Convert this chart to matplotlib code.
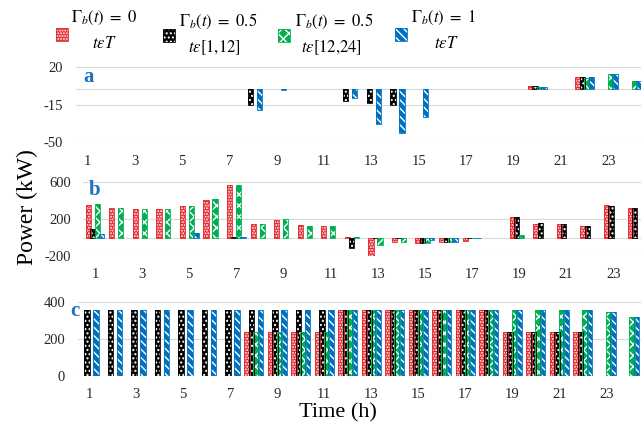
import numpy as np
import matplotlib
matplotlib.use("Agg")
import matplotlib.pyplot as plt
from matplotlib.patches import Rectangle

plt.rcParams['font.family'] = ['Liberation Serif', 'DejaVu Serif']
plt.rcParams['mathtext.fontset'] = 'stix'
plt.rcParams['hatch.linewidth'] = 1.0

hours = list(range(1, 25))
xtick_labels = [str(h) for h in range(1, 24, 2)]

# Panel a
red_a = [0, 0, 0, 0, 0, 0, 0, 0, 0, 0, 0, 0, 0, 0, 0, 0, 0, 0, 0, 3, 0, 11, 0, 0]
black_a = [0, 0, 0, 0, 0, 0, 0, -15, 0, 0, 0, -11, -13, -15, 0, 0, 0, 0, 0, 3, 0, 11, 0, 0]
green_a = [0, 0, 0, 0, 0, 0, 0, 0, 0, 0, 0, 0, 0, 0, 0, 0, 0, 0, 0, 2, 0, 10, 14, 7]
blue_a = [0, 0, 0, 0, 0, 0, 0, -20, -1.5, 0, 0, -9, -33, -41, -26.5, 0, 0, 0, 0, 2, 0, 11, 14, 7]

# Panel b
red_b = [354, 325, 307, 314, 343, 412, 571, 144, 194, 133, 126, 5,
         -196, -44, -62, -51, -33, 0, 220, 148, 148, 129, 354, 325]
black_b = [90, 0, 0, 0, 0, 0, 5, 0, 0, 0, 0, -116,
           -10, -10, -62, -51, -8, 0, 220, 155, 148, 129, 347, 325]
green_b = [361, 325, 307, 314, 343, 419, 571, 151, 199, 130, 126, 10,
           -80, -51, -62, -51, -8, 0, 28, 0, 0, 0, 0, 0]
blue_b = [36, 0, 0, 0, 53, 0, 5, 0, 0, 0, 0, 0,
          0, 0, -26, -45, -8, 0, 0, 0, 0, 0, 0, 0]

# Panel c
red_c = [0] * 7 + [234] * 4 + [355] * 7 + [234] * 4 + [0, 0]
black_c = [355] * 18 + [234] * 4 + [0, 0]
green_c = [0] * 7 + [234] * 4 + [355] * 7 + [355] * 4 + [346, 319]
blue_c = [355] * 22 + [346, 319]

legend_line1 = [r'$\Gamma_b(t)\ =\ 0$', r'$\Gamma_b(t)\ =\ 0.5$', r'$\Gamma_b(t)\ =\ 0.5$', r'$\Gamma_b(t)\ =\ 1$']
legend_line2 = [r'$t\epsilon T$', r'$t\epsilon[1{,}12]$', r'$t\epsilon[12{,}24]$', r'$t\epsilon T$']

colors = ['#E3262B', '#000000', '#00B050', '#0070C0']
hatches = ['......', '....', 'xxx', '\\\\\\\\']

W, H = 641, 425
fig = plt.figure(figsize=(W / 100, H / 100), dpi=100)


def px_axes(left, right, top, bottom):
    return fig.add_axes([left / W, 1 - bottom / H, (right - left) / W, (bottom - top) / H])


ax_a = px_axes(75.5, 643.8, 67.3, 142.3)
ax_b = px_axes(83.2, 648.6, 182.3, 256.0)
ax_c = px_axes(77.5, 641.5, 301.7, 375.7)

panels = [
    (ax_a, [red_a, black_a, green_a, blue_a], (-50, 20), [20, -15, -50], True),
    (ax_b, [red_b, black_b, green_b, blue_b], (-200, 600), [600, 200, -200], True),
    (ax_c, [red_c, black_c, green_c, blue_c], (0, 400), [400, 200, 0], False),
]

width = 0.22
offsets = [-0.285, -0.095, 0.095, 0.285]
x = np.array(hours, dtype=float)

for ax, series, ylim, yticks, zero_line in panels:
    for ytk in yticks:
        ax.axhline(ytk, color='#D9D9D9', lw=0.8, zorder=0)
    if zero_line:
        ax.axhline(0, color='#D9D9D9', lw=0.8, zorder=0)
    for vals, col, hat, off in zip(series, colors, hatches, offsets):
        v = np.array(vals, dtype=float)
        v = np.where(v == 0, np.nan, v)
        ax.bar(x + off, v, width=width, color=col, edgecolor='white',
               hatch=hat, linewidth=0, zorder=2)
        ax.bar(x + off, v, width=width, fill=False, edgecolor=col,
               linewidth=0.6, zorder=3)
    ax.set_xlim(0.5, 24.5)
    ax.set_ylim(*ylim)
    ax.set_yticks(yticks)
    ax.set_yticklabels([str(t) for t in yticks])
    ax.set_xticks(range(1, 24, 2))
    ax.set_xticklabels(xtick_labels)
    ax.tick_params(length=0, labelsize=10.5, pad=9, colors='#262626')
    for s in ax.spines.values():
        s.set_visible(False)
    ax.set_facecolor('none')

# overlay for legend and annotations
ov = fig.add_axes([0, 0, 1, 1])
ov.set_xlim(0, W)
ov.set_ylim(H, 0)
ov.axis('off')
ov.set_facecolor('none')

icon_x = [56, 163, 278, 395]
icon_y = [28, 29, 29, 28]
text1_x = [71, 179, 295, 411]
text1_y = [18, 21, 21, 18]
text2_x = [104, 214, 331, 446]
text2_y = [44, 48, 48, 44]
for i in range(4):
    ov.add_patch(Rectangle((icon_x[i], icon_y[i]), 12, 13, facecolor=colors[i],
                           edgecolor='white', hatch=hatches[i], linewidth=0))
    ov.add_patch(Rectangle((icon_x[i], icon_y[i]), 12, 13, fill=False,
                           edgecolor=colors[i], linewidth=0.6))
    ov.text(text1_x[i], text1_y[i], legend_line1[i], ha='left', va='center', fontsize=12)
    ov.text(text2_x[i], text2_y[i], legend_line2[i], ha='center', va='center', fontsize=12)

letter_col = '#1F70C1'
ov.text(89, 77, 'a', color=letter_col, fontsize=15, fontweight='bold', ha='center', va='center')
ov.text(95, 190, 'b', color=letter_col, fontsize=15, fontweight='bold', ha='center', va='center')
ov.text(75, 311, 'c', color=letter_col, fontsize=15, fontweight='bold', ha='center', va='center')

ov.text(27, 207, 'Power (kW)', rotation=90, fontsize=17, ha='center', va='center')
ov.text(338, 413, 'Time (h)', fontsize=16, ha='center', va='center')

fig.savefig('out.png', dpi=100)
